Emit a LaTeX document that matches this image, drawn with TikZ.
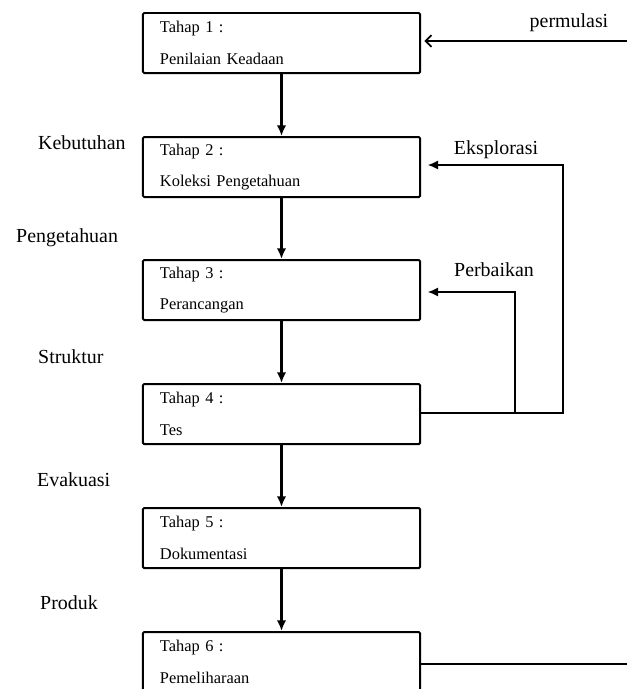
\documentclass[tikz,border=0pt]{standalone}
\usepackage{fontspec}
\setmainfont{Liberation Serif}
\usetikzlibrary{arrows,arrows.meta,calc}

\tikzset{
	tahap/.style = {draw, line width=1.7pt, rounded corners=1pt, minimum width=8.31cm, minimum height=1.8cm,
		align=left, text width=7.29cm, inner sep=0pt, font=\fontsize{14}{27}\selectfont},
	lbl/.style = {font=\fontsize{17}{19}\selectfont, inner sep=0pt},
	alur/.style = {-{Latex[length=9pt,width=8pt]}, line width=1.8pt}
}

\begin{document}
\begin{tikzpicture}[x=0.03cm, y=-0.03cm]
	\useasboundingbox (0,0) rectangle (627,689);

	\node[tahap] (s1) at (281.5, 43) {Tahap 1 :\\Penilaian Keadaan};
	\node[tahap] (s2) at (281.5, 167) {Tahap 2 :\\Koleksi Pengetahuan};
	\node[tahap] (s3) at (281.5, 290) {Tahap 3 :\\Perancangan};
	\node[tahap] (s4) at (281.5, 414) {Tahap 4 :\\Tes};
	\node[tahap] (s5) at (281.5, 538) {Tahap 5 :\\Dokumentasi};
	\node[tahap] (s6) at (281.5, 662) {Tahap 6 :\\Pemeliharaan};

	\node[lbl, anchor=west] (kb) at (38, 143) {Kebutuhan};
	\node[lbl, anchor=west] (pg) at (16, 238) {Pengetahuan};
	\node[lbl, anchor=west] (st) at (38, 357) {Struktur};
	\node[lbl, anchor=west] (ev) at (37, 480) {Evakuasi};
	\node[lbl, anchor=west] (pr) at (40, 603) {Produk};
	\node[lbl] (pm) at (569, 23) {permulasi};
	\node[lbl] (ex) at (496, 150) {Eksplorasi};
	\node[lbl] (pb) at (494, 270) {Perbaikan};

	\coordinate (in) at (627, 41);
	\coordinate (ek) at (563, 165);
	\coordinate (pk) at (515, 292);
	\coordinate (fb) at (515, 413);
	\coordinate (out) at (627, 664);

	\draw [alur] (s1) -- (s2);
	\draw [alur] (s2) -- (s3);
	\draw [alur] (s3) -- (s4);
	\draw [alur] (s4) -- (s5);
	\draw [alur] (s5) -- (s6);

	\draw [-{Straight Barb[length=5pt,width=10pt]}, line width=1.5pt, shorten >=1mm] (in) -- (in -| s1.east);
	\draw [alur, line width=1.5pt, shorten >=2mm] (s4.east |- fb) -| (ek) -- (ek -| s2.east);
	\draw [alur, line width=1.5pt, shorten >=2mm] (s4.east |- fb) -| (pk) -- (pk -| s3.east);
	\draw [line width=1.5pt] (s6.east |- out) -- (out);
\end{tikzpicture}
\end{document}
